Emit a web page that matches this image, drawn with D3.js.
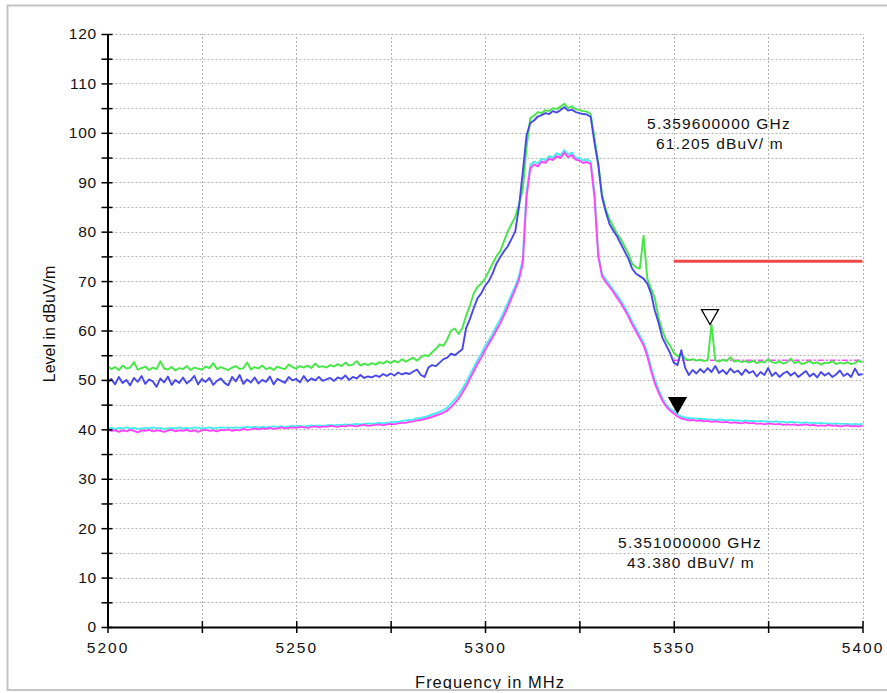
<!DOCTYPE html>
<html><head><meta charset="utf-8">
<script src="https://cdn.jsdelivr.net/npm/d3@7"></script>
<style>
html,body{margin:0;padding:0;background:#fff;}
svg{display:block;font-family:"Liberation Sans",Arial,sans-serif;}
</style></head><body>
<svg id="chart" width="887" height="693"></svg>
<script>
// ---- data ----
const freqStart = 5200;   // MHz, first sample
const freqStep = 1;       // MHz between samples
const xTickValues = [5200, 5225, 5250, 5275, 5300, 5325, 5350, 5375, 5400];
const yTickValues = [0,5,10,15,20,25,30,35,40,45,50,55,60,65,70,75,80,85,90,95,100,105,110,115,120];

const traceGreen = [
52.8,52.2,52.6,52.0,52.9,52.3,52.5,53.6,52.1,52.4,
52.7,52.0,52.5,52.2,53.8,52.3,52.1,52.6,51.9,52.4,
52.2,52.8,52.0,52.5,52.3,52.1,52.7,52.4,53.4,52.2,
52.6,52.3,52.0,52.5,52.8,52.2,52.4,53.5,52.1,52.6,
52.3,52.9,52.2,52.5,52.0,52.7,52.4,52.2,53.1,52.6,
52.3,52.8,52.5,52.9,52.4,53.3,52.6,52.8,52.5,53.0,
52.7,53.2,52.8,53.5,52.9,53.1,53.8,52.9,53.3,53.0,
53.4,53.1,53.6,53.3,53.8,53.4,53.9,53.5,54.2,53.7,
54.1,54.5,53.9,54.6,55.0,54.8,55.6,56.3,57.2,56.9,
58.2,60.0,60.4,59.3,60.5,63.0,65.0,67.5,68.8,69.5,
70.5,72.0,73.5,75.0,76.0,78.0,80.0,81.5,83.0,85.5,
88.5,97.0,103.0,103.5,104.2,104.0,104.6,104.4,105.0,104.8,
105.3,105.9,105.0,105.4,104.8,104.6,104.4,104.3,103.8,99.0,
94.0,87.5,84.5,82.5,81.0,79.5,78.5,77.0,75.5,73.5,
72.8,72.5,79.2,70.5,68.5,66.5,62.5,60.0,58.0,57.0,
55.5,54.8,55.2,54.3,54.0,54.2,53.9,54.1,53.8,54.0,
61.2,54.0,53.7,54.1,53.8,54.6,53.7,53.9,53.6,53.8,
53.5,53.9,53.4,53.7,53.5,54.2,53.6,53.4,53.8,53.3,
53.6,54.3,53.4,53.7,53.2,53.5,53.8,53.3,53.6,53.1,
53.5,53.4,53.8,53.2,53.5,53.3,53.6,53.2,53.4,53.9,
53.5];

const traceBlue = [
49.5,50.2,49.1,50.6,49.4,50.0,48.9,50.4,49.6,50.8,
49.2,50.1,49.7,48.6,50.3,49.5,50.7,49.0,50.0,49.4,
50.5,49.3,49.9,50.8,49.1,50.2,49.6,50.4,49.0,49.8,
50.3,49.4,48.9,50.6,49.7,51.0,49.2,50.1,49.5,50.5,
49.3,50.0,49.6,50.7,49.1,50.2,49.8,49.4,50.6,49.9,
50.2,49.5,50.8,49.7,50.3,49.9,50.6,49.8,50.1,50.4,
49.8,50.5,50.2,50.9,50.0,50.6,50.3,51.0,50.4,50.7,
50.5,50.9,50.6,51.2,50.8,51.3,50.9,51.5,51.1,51.4,
51.2,51.7,52.1,51.0,50.6,52.5,53.0,52.8,53.5,54.2,
54.5,55.3,55.0,55.6,56.2,60.5,62.3,64.5,66.5,67.5,
69.0,70.0,71.5,73.5,74.8,76.0,77.0,78.5,80.0,85.0,
92.0,99.5,102.0,102.5,103.3,103.6,104.0,103.8,104.4,104.1,
104.6,105.2,104.5,104.7,104.2,104.0,103.8,103.7,103.2,98.0,
93.5,87.0,84.0,81.5,80.2,79.0,77.5,76.0,74.5,72.5,
71.5,71.0,70.5,69.5,67.5,64.0,61.5,58.5,57.0,55.5,
53.5,53.0,56.0,52.5,51.0,52.0,51.3,52.2,51.5,52.4,
51.6,52.8,51.4,52.0,51.2,52.3,51.5,51.9,51.0,52.1,
51.4,51.8,50.7,51.6,51.0,52.4,50.8,51.5,50.6,51.3,
51.7,50.9,51.5,50.6,51.2,51.8,50.7,51.3,50.5,51.6,
50.9,51.4,50.6,51.1,51.9,50.8,51.3,50.6,52.3,51.0,
51.2];

const traceCyan = [
40.2,40.3,40.1,40.3,40.2,40.4,40.2,40.3,40.1,40.2,
40.3,40.2,40.4,40.2,40.3,40.1,40.2,40.3,40.2,40.4,
40.2,40.3,40.2,40.4,40.3,40.2,40.3,40.4,40.2,40.3,
40.4,40.3,40.4,40.3,40.4,40.3,40.4,40.5,40.4,40.5,
40.4,40.5,40.4,40.5,40.6,40.5,40.6,40.5,40.6,40.7,
40.6,40.7,40.6,40.7,40.8,40.7,40.8,40.7,40.8,40.9,
40.8,40.9,40.9,41.0,40.9,41.0,41.1,41.0,41.1,41.2,
41.1,41.2,41.3,41.2,41.3,41.4,41.5,41.5,41.7,41.8,
41.9,42.0,42.2,42.3,42.5,42.7,43.0,43.3,43.6,43.9,
44.4,45.2,46.0,47.0,48.2,49.5,51.0,52.5,54.0,55.3,
56.8,58.0,59.3,60.8,62.2,63.8,65.5,67.3,69.0,71.0,
74.5,88.0,93.5,94.2,93.8,94.8,94.4,95.3,95.0,95.9,
95.4,96.5,95.6,96.0,95.0,94.9,94.4,94.6,94.2,88.0,
75.5,71.5,70.3,69.3,68.2,67.2,66.0,64.8,63.3,61.8,
60.4,59.0,57.6,55.5,52.5,50.0,48.0,46.3,45.0,44.2,
43.6,43.0,42.6,42.4,42.3,42.2,42.2,42.1,42.1,42.0,
42.0,41.9,42.0,41.9,41.8,41.9,41.8,41.8,41.7,41.8,
41.7,41.7,41.6,41.7,41.6,41.6,41.5,41.6,41.5,41.5,
41.4,41.5,41.4,41.4,41.3,41.4,41.3,41.3,41.2,41.3,
41.2,41.2,41.1,41.2,41.1,41.1,41.1,41.0,41.1,41.0,
41.1];

const traceMagenta = [
39.9,39.7,39.8,39.5,39.8,39.6,39.9,39.7,39.4,39.8,
39.7,39.9,39.6,39.8,39.7,39.5,39.8,39.9,39.6,39.8,
39.7,39.9,39.6,39.8,39.5,39.8,39.9,39.7,39.8,39.6,
39.9,39.8,40.0,39.7,39.9,39.8,40.1,39.9,40.0,40.2,
40.0,40.2,40.1,40.3,40.1,40.2,40.4,40.2,40.3,40.4,
40.3,40.5,40.4,40.3,40.5,40.6,40.4,40.6,40.5,40.7,
40.6,40.5,40.7,40.6,40.8,40.7,40.6,40.8,40.9,40.7,
40.8,40.9,41.0,40.8,41.0,41.1,41.0,41.2,41.3,41.3,
41.5,41.6,41.8,41.9,42.1,42.3,42.5,42.8,43.1,43.4,
43.8,44.5,45.3,46.2,47.4,48.7,50.2,51.7,53.2,54.5,
56.0,57.3,58.6,60.0,61.4,63.0,64.7,66.5,68.3,70.3,
73.5,87.0,92.8,93.6,93.2,94.2,93.9,94.8,94.5,95.3,
94.9,96.0,95.1,95.5,94.6,94.4,93.9,94.1,93.7,87.0,
75.0,71.0,69.8,68.8,67.8,66.6,65.5,64.2,62.8,61.2,
59.8,58.4,57.0,54.8,51.8,49.3,47.4,45.8,44.6,43.8,
43.2,42.6,42.2,42.0,41.8,41.9,41.7,41.8,41.6,41.7,
41.5,41.6,41.5,41.4,41.5,41.3,41.4,41.3,41.2,41.4,
41.2,41.3,41.1,41.2,41.0,41.2,41.1,41.0,41.1,40.9,
41.0,40.9,41.0,40.8,40.9,41.0,40.8,40.9,40.7,40.8,
40.7,40.9,40.7,40.8,40.6,40.7,40.8,40.6,40.7,40.6,
40.7];

const limitFreqs = [5350, 5400];
const limitLevel = [74, 74];
const limitLevelAvg = [54, 54];

const markerFreqs = [5359.6, 5351.0];     // MHz
const markerLevels = [61.205, 43.380];    // dBuV/m
const markerFilled = [false, true];

// ---- drawing ----
const svg = d3.select("#chart");
const W = 887, H = 693;
const x = d3.scaleLinear().domain([5200, 5400]).range([107.5, 862.5]);
const y = d3.scaleLinear().domain([0, 120]).range([627, 34]);

svg.append("rect").attr("x", 0).attr("y", 0).attr("width", W).attr("height", H).attr("fill", "#fff");

// grid
const grid = svg.append("g").attr("stroke", "#b4b4b4").attr("stroke-width", 1).attr("stroke-dasharray", "2,2");
grid.selectAll("line.h").data(yTickValues.filter(v => v > 0)).join("line")
  .attr("x1", x(5200)).attr("x2", x(5400))
  .attr("y1", d => Math.round(y(d)) + 0.5).attr("y2", d => Math.round(y(d)) + 0.5);
grid.selectAll("line.v").data(xTickValues.filter(v => v > 5200)).join("line")
  .attr("y1", y(0)).attr("y2", y(120))
  .attr("x1", d => Math.round(x(d)) + 0.5).attr("x2", d => Math.round(x(d)) + 0.5);

svg.append("clipPath").attr("id", "plotclip").append("rect")
  .attr("x", x(5200)).attr("y", y(120) - 20).attr("width", x(5400) - x(5200) + 1).attr("height", y(0) - y(120) + 20);

const plot = svg.append("g").attr("clip-path", "url(#plotclip)");

// limit lines
plot.append("line")
  .attr("x1", x(limitFreqs[0])).attr("x2", x(limitFreqs[1]))
  .attr("y1", y(limitLevel[0])).attr("y2", y(limitLevel[1]))
  .attr("stroke", "#f04848").attr("stroke-width", 3);
plot.append("line")
  .attr("x1", x(limitFreqs[0])).attr("x2", x(limitFreqs[1]))
  .attr("y1", y(limitLevelAvg[0])).attr("y2", y(limitLevelAvg[1]))
  .attr("stroke", "#ff44ff").attr("stroke-width", 1.5).attr("stroke-dasharray", "6,2,2,2");

const line = d3.line().x((d, i) => x(freqStart + i * freqStep)).y(d => y(d));
const traces = [
  {data: traceGreen, color: "#44e844"},
  {data: traceBlue, color: "#4848ec"},
  {data: traceCyan, color: "#44eef0"},
  {data: traceMagenta, color: "#ff44ff"}
];
traces.forEach(t => {
  plot.append("path").datum(t.data).attr("d", line)
    .attr("fill", "none").attr("stroke", t.color).attr("stroke-width", 1.9)
    .attr("stroke-linejoin", "round");
});

// markers
markerFreqs.forEach((f, i) => {
  const px = x(f), py = y(markerLevels[i]);
  const p = d3.path();
  p.moveTo(px, py); p.lineTo(px - 8.5, py - 15); p.lineTo(px + 8.5, py - 15); p.closePath();
  svg.append("path").attr("d", p.toString())
    .attr("fill", markerFilled[i] ? "#000" : "#fff")
    .attr("stroke", "#000").attr("stroke-width", 1.3).attr("stroke-linejoin", "miter");
});

// marker readouts
const readPos = [[719, 129], [690, 548]];
markerFreqs.forEach((f, i) => {
  const g = svg.append("g").attr("font-size", 15.5).attr("fill", "#111").attr("text-anchor", "middle")
    .attr("letter-spacing", "1.2px");
  g.append("text").attr("x", readPos[i][0]).attr("y", readPos[i][1])
    .text((f / 1000).toFixed(9) + " GHz");
  g.append("text").attr("x", readPos[i][0] + 1).attr("y", readPos[i][1] + 20)
    .text(markerLevels[i].toFixed(3) + " dBuV/ m");
});

// axes
const yAxis = d3.axisLeft(y).tickValues(yTickValues).tickSize(6).tickSizeOuter(0).tickPadding(4.5)
  .tickFormat(d => d % 10 === 0 ? d : "");
const gy = svg.append("g").attr("transform", `translate(${x(5200)},0)`).call(yAxis);
gy.selectAll(".tick line").attr("x1", 5).attr("stroke-width", 1.5);
gy.select(".domain").attr("stroke-width", 2);
gy.selectAll("text").attr("font-size", 15.5).attr("letter-spacing", "0.8px").attr("fill", "#111")
  .attr("font-family", "Liberation Sans, Arial, sans-serif");

const xAxis = d3.axisBottom(x).tickValues(xTickValues).tickSize(6).tickSizeOuter(0).tickPadding(9)
  .tickFormat(d => d % 50 === 0 ? d : "");
const gx = svg.append("g").attr("transform", `translate(0,${y(0)})`).call(xAxis);
gx.selectAll(".tick line").attr("y1", -6).attr("stroke-width", 1.5);
gx.select(".domain").attr("stroke-width", 2);
gx.selectAll("text").attr("font-size", 15.5).attr("letter-spacing", "2px").attr("fill", "#111")
  .attr("font-family", "Liberation Sans, Arial, sans-serif");

// axis titles
svg.append("text").attr("transform", "translate(55,324) rotate(-90)")
  .attr("text-anchor", "middle").attr("font-size", 16).attr("fill", "#111")
  .text("Level in dBuV/m");
svg.append("text").attr("x", 490).attr("y", 688)
  .attr("text-anchor", "middle").attr("font-size", 16.5).attr("letter-spacing", "1px").attr("fill", "#111")
  .text("Frequency in MHz");

// outer frame
svg.append("rect").attr("x", 0).attr("y", 691).attr("width", W).attr("height", 2).attr("fill", "#fff");
svg.append("path").attr("d", `M${W},5.5 H7.5 V690 H${W}`)
  .attr("fill", "none").attr("stroke", "#c4c4c4").attr("stroke-width", 2);
</script>
</body></html>
